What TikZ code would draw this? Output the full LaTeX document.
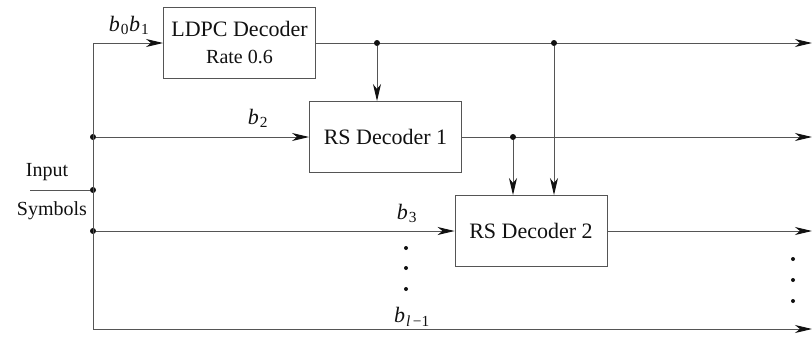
\documentclass[tikz,border=0pt]{standalone}
\usepackage{fontspec}
\setmainfont{Liberation Serif}
\usepackage{tikz}
\usetikzlibrary{arrows.meta,positioning,calc}
\definecolor{decline}{HTML}{555555}
\definecolor{decink}{HTML}{111111}

\newcommand{\bsym}[1]{\textit{b}\kern1pt\textsubscript{#1}}

\begin{document}
\begin{tikzpicture}[x=1pt,y=-1pt,
    decbox/.style={draw=decline, line width=0.9pt, minimum width=152pt, minimum height=71pt,
      font=\fontsize{22}{24}\selectfont, text=decink, inner sep=0pt},
    wire/.style={decline, line width=0.9pt},
    flow/.style={wire, -{Stealth[length=17pt,width=8pt,inset=5pt,color=decink]}},
    tap/.style={fill=decink, circle, inner sep=0pt, minimum size=6pt},
    lbl/.style={font=\fontsize{22}{24}\selectfont, text=decink},
    vdot/.style={fill=decink, circle, inner sep=0pt, minimum size=4pt}]
  \useasboundingbox (0,0) rectangle (812,341);

  % decoders
  \node[decbox, align=center] (ldpc) at (239.5,43)
    {LDPC Decoder\\[3pt]{\fontsize{20}{22}\selectfont Rate 0.6}};
  \node[decbox] (rsone) at (385.5,137) {RS Decoder 1};
  \node[decbox] (rstwo) at (531,231) {RS Decoder 2};

  % input bus
  \coordinate (busTop) at (93,43);
  \coordinate (busBot) at (93,329);
  \node[tap] (jtwo) at (93,137) {};
  \node[tap] (jin) at (93,190) {};
  \node[tap] (jthree) at (93,231) {};
  \coordinate (inStart) at (30,190);
  \draw[wire] (inStart) -- (jin);
  \draw[wire] (busTop) -- (busBot);
  \node[lbl, font=\fontsize{20}{22}\selectfont] (inputlbl) at (47,172) {Input};
  \node[lbl, font=\fontsize{20}{22}\selectfont] (symlbl) at (52,211) {Symbols};

  % branches into the decoders
  \draw[flow] (busTop) -- (ldpc.west);
  \draw[flow] (jtwo) -- (rsone.west);
  \draw[flow] (jthree) -- (rstwo.west);
  \node[lbl] (bzero) at (129,25) {\bsym{0}\bsym{1}};
  \node[lbl] (btwo) at (258,118) {\bsym{2}};
  \node[lbl] (bthree) at (407,213) {\bsym{3}};
  \node[lbl] (blast) at (412,317) {\textit{b}\kern1pt\textsubscript{\textit{l}\,−1}};

  % outputs
  \coordinate (outOne) at (812,43);
  \coordinate (outTwo) at (812,137);
  \coordinate (outThree) at (812,231);
  \coordinate (outLast) at (812,329);
  \draw[flow] (ldpc.east) -- (outOne);
  \draw[flow] (rsone.east) -- (outTwo);
  \draw[flow] (rstwo.east) -- (outThree);
  \draw[flow] (busBot) -- (outLast);

  % feeds between decoders
  \node[tap] (ldpcTapA) at (377,43) {};
  \node[tap] (ldpcTapB) at (554,43) {};
  \node[tap] (rsTap) at (513,137) {};
  \draw[flow] (ldpcTapA) -- (ldpcTapA |- rsone.north);
  \draw[flow] (ldpcTapB) -- (ldpcTapB |- rstwo.north);
  \draw[flow] (rsTap) -- (rsTap |- rstwo.north);

  % ellipsis dots
  \foreach \y in {248,268,289} \node[vdot] at (406,\y) {};
  \foreach \y in {259,280,301} \node[vdot] at (793,\y) {};
\end{tikzpicture}
\end{document}
